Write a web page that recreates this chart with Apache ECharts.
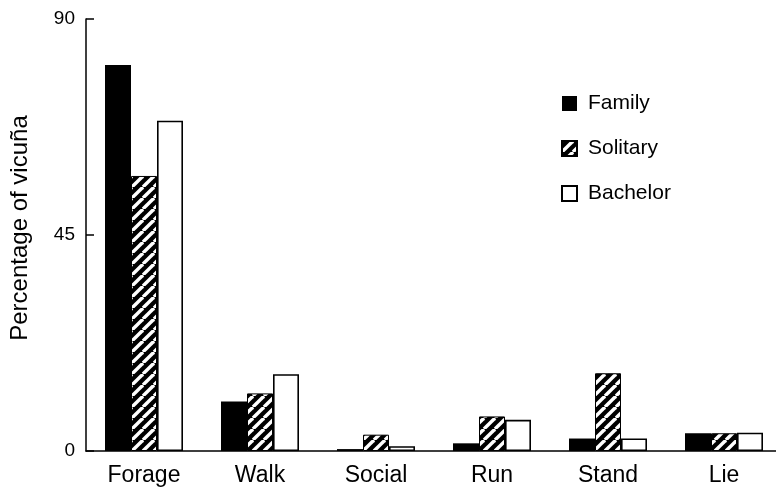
<!DOCTYPE html>
<html>
<head>
<meta charset="utf-8">
<script src="https://cdn.jsdelivr.net/npm/echarts@6/dist/echarts.min.js"></script>
<style>
  html, body { margin: 0; padding: 0; background: #fff; }
  #chart-container { width: 776px; height: 489px; }
</style>
</head>
<body>
<div id="chart-container"></div>
<script>
const categories = ["Forage", "Walk", "Social", "Run", "Stand", "Lie"];
const family = [80.4, 10.3, 0.4, 1.6, 2.6, 3.7];
const solitary = [57.3, 12.0, 3.4, 7.2, 16.2, 3.7];
const bachelor = [68.8, 16.0, 1.0, 6.5, 2.6, 3.8];
const yTicks = [0, 45, 90];

// hatched fill for the Solitary bars
function makeHatch() {
  const s = 11;
  const c = document.createElement("canvas");
  c.width = s;
  c.height = s;
  const ctx = c.getContext("2d");
  ctx.fillStyle = "#000";
  ctx.fillRect(0, 0, s, s);
  ctx.strokeStyle = "#fff";
  ctx.lineWidth = 3.4;
  for (const k of [-s, 0, s]) {
    ctx.beginPath();
    ctx.moveTo(k, s);
    ctx.lineTo(k + s, 0);
    ctx.stroke();
  }
  return c;
}
const hatch = { image: makeHatch(), repeat: "repeat" };

const font = "Liberation Sans";
const dom = document.getElementById("chart-container");
const myChart = echarts.init(dom, null, { renderer: "canvas" });

const option = {
  animation: false,
  textStyle: { fontFamily: font, color: "#000" },
  legend: {
    orient: "vertical",
    left: 556,
    top: 88,
    itemWidth: 15,
    itemHeight: 15,
    itemGap: 24,
    icon: "rect",
    textStyle: {
      fontFamily: font,
      fontSize: 21,
      color: "#000",
      padding: [0, 0, 0, 6],
    },
    data: ["Family", "Solitary", "Bachelor"],
  },
  grid: { left: 86, top: 19, width: 696, bottom: 38, outerBoundsMode: "none", containLabel: false },
  xAxis: {
    type: "category",
    data: categories,
    axisLine: { lineStyle: { color: "#000", width: 1.5 } },
    axisTick: { show: false },
    axisLabel: { fontFamily: font, fontSize: 23, color: "#000", margin: 13 },
  },
  yAxis: {
    type: "value",
    min: yTicks[0],
    max: yTicks[yTicks.length - 1],
    interval: 45,
    name: "Percentage of vicuña",
    nameLocation: "middle",
    nameGap: 54,
    nameTextStyle: { fontFamily: font, fontSize: 24, color: "#000", padding: [0, 0, 0, 14] },
    axisLine: { show: true, lineStyle: { color: "#000", width: 1.5 } },
    axisTick: { show: true, inside: true, length: 8, lineStyle: { color: "#000", width: 1.5 } },
    axisLabel: { fontFamily: font, fontSize: 19, color: "#000", margin: 11 },
    splitLine: { show: false },
  },
  series: [
    {
      name: "Family",
      type: "bar",
      data: family,
      barWidth: 26,
      barGap: "0%",
      itemStyle: { color: "#000" },
    },
    {
      name: "Solitary",
      type: "bar",
      data: solitary,
      barWidth: 26,
      barGap: "0%",
      itemStyle: { color: hatch, borderColor: "#000", borderWidth: 1 },
    },
    {
      name: "Bachelor",
      type: "bar",
      data: bachelor,
      barWidth: 26,
      barGap: "0%",
      itemStyle: { color: "#fff", borderColor: "#000", borderWidth: 1.6 },
    },
  ],
};

myChart.setOption(option);
window.addEventListener("resize", myChart.resize);
</script>
</body>
</html>
